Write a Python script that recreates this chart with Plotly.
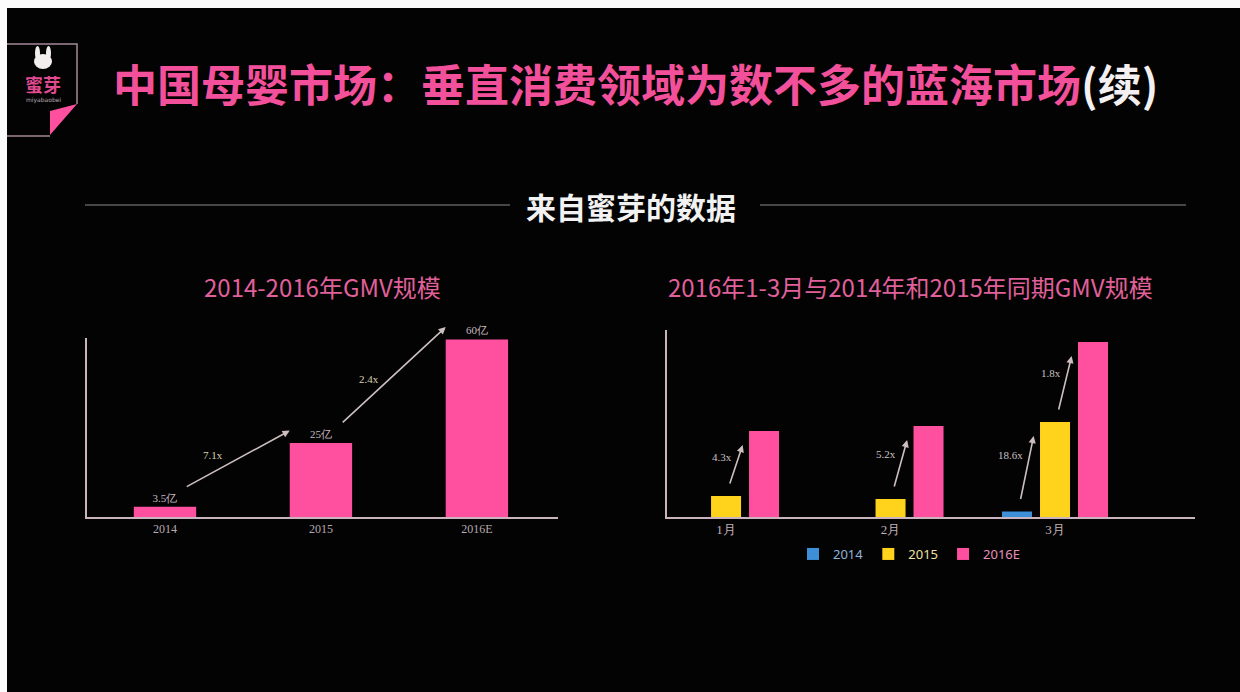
import plotly.graph_objects as go

# ---------------- data ----------------
years = ["2014", "2015", "2016E"]
gmv = [3.5, 25, 60]
gmv_labels = ["3.5亿", "25亿", "60亿"]
gmv_growth = ["7.1x", "2.4x"]

months = ["1月", "2月", "3月"]
series_names = ["2014", "2015", "2016E"]
m2014 = [0, 0, 5.5]
m2015 = [21, 18, 95]
m2016 = [86, 91, 175]
month_growth = [("2015", "2016E", 0, "4.3x"), ("2015", "2016E", 1, "5.2x"),
                ("2014", "2015", 2, "18.6x"), ("2015", "2016E", 2, "1.8x")]

PINK = "#ff4f9f"
YELLOW = "#ffd21c"
BLUE = "#3d8fd8"
TITLE_PINK = "#f2509a"
W, H = 1240, 692
FONT = "Noto Sans CJK SC"

def px(x):
    return x / W

def py(y):
    return 1 - y / H

fig = go.Figure()

# left chart
fig.add_trace(go.Bar(x=years, y=gmv, text=gmv_labels, textposition="outside",
                     textfont=dict(color="#c9b8c0", size=11, family="Liberation Serif"),
                     marker=dict(color=PINK, line=dict(width=0)), width=0.4,
                     cliponaxis=False, showlegend=False, xaxis="x", yaxis="y",
                     hoverinfo="skip"))

# right chart
series_vals = [m2014, m2015, m2016]
series_cols = [BLUE, YELLOW, PINK]
legend_text_cols = ["#8fb4dc", "#efe2a0", "#e890b8"]
for name, vals, col, tcol in zip(series_names, series_vals, series_cols, legend_text_cols):
    fig.add_trace(go.Bar(x=months, y=vals, name=f"<span style='color:{tcol}'>{name}</span>",
                         marker=dict(color=col, line=dict(width=0)),
                         xaxis="x2", yaxis="y2", hoverinfo="skip"))

annotations = []
shapes = []

# growth arrows left
for i, lab in enumerate(gmv_growth):
    sx, sy = i + 0.13, gmv[i] + 6.5
    ex, ey = i + 0.8, gmv[i + 1] + 4.2
    annotations.append(dict(x=ex, y=ey, ax=sx, ay=sy, xref="x", yref="y", axref="x", ayref="y",
                            showarrow=True, arrowhead=2, arrowsize=0.9, arrowwidth=1.6,
                            arrowcolor="#cdbfc0", text=""))
    t = 0.32
    annotations.append(dict(x=sx + t * (ex - sx), y=sy + t * (ey - sy), xref="x", yref="y",
                            text=lab, showarrow=False, xshift=-6, yshift=14,
                            font=dict(color="#d8d0b0", size=11, family="Liberation Serif")))

# growth arrows right
offsets = {"2014": -0.231, "2015": 0.0, "2016E": 0.231}
vals_by = dict(zip(series_names, series_vals))
for f, t_, i, lab in month_growth:
    sx, sy = i + offsets[f] + 0.02, vals_by[f][i] + 11
    ex, ey = i + offsets[t_] - 0.13, vals_by[t_][i] - 14
    annotations.append(dict(x=ex, y=ey, ax=sx, ay=sy, xref="x2", yref="y2", axref="x2", ayref="y2",
                            showarrow=True, arrowhead=2, arrowsize=0.9, arrowwidth=1.6,
                            arrowcolor="#cdbfc0", text=""))
    tt = 0.7
    annotations.append(dict(x=sx + tt * (ex - sx) - 0.03, y=sy + tt * (ey - sy), xref="x2", yref="y2",
                            text=lab, showarrow=False, xanchor="right",
                            font=dict(color="#c8c0c0", size=11, family="Liberation Serif")))

# titles
annotations.append(dict(x=px(111), y=py(83), xref="paper", yref="paper", xanchor="left", yanchor="middle",
                        showarrow=False,
                        text=f"<b><span style='color:{TITLE_PINK}'>中国母婴市场：垂直消费领域为数不多的蓝海市场</span>(续)</b>",
                        font=dict(color="#f4f0f2", size=44, family=FONT)))
annotations.append(dict(x=px(631), y=py(206), xref="paper", yref="paper", xanchor="center", yanchor="middle",
                        showarrow=False, text="<b>来自蜜芽的数据</b>",
                        font=dict(color="#f2f2f2", size=30, family=FONT)))
annotations.append(dict(x=px(322), y=py(286), xref="paper", yref="paper", xanchor="center", yanchor="middle",
                        showarrow=False, text="2014-2016年GMV规模",
                        font=dict(color="#e0609a", size=24, family=FONT)))
annotations.append(dict(x=px(911), y=py(286), xref="paper", yref="paper", xanchor="center", yanchor="middle",
                        showarrow=False, text="2016年1-3月与2014年和2015年同期GMV规模",
                        font=dict(color="#e0609a", size=24, family=FONT)))
# logo text
annotations.append(dict(x=px(43), y=py(84), xref="paper", yref="paper", xanchor="center", yanchor="middle",
                        showarrow=False, text="<b>蜜芽</b>",
                        font=dict(color="#e04a90", size=18, family=FONT)))
annotations.append(dict(x=px(43), y=py(100), xref="paper", yref="paper", xanchor="center", yanchor="middle",
                        showarrow=False, text="miyabaobei",
                        font=dict(color="#b8a8b0", size=6, family="DejaVu Sans")))

# background
shapes.append(dict(type="rect", xref="paper", yref="paper", x0=px(7), x1=1, y0=0, y1=py(8),
                   fillcolor="#030303", line=dict(width=0), layer="below"))
# separator lines
shapes.append(dict(type="line", xref="paper", yref="paper", x0=px(85), x1=px(510), y0=py(205), y1=py(205),
                   line=dict(color="#8a8a8a", width=1.2)))
shapes.append(dict(type="line", xref="paper", yref="paper", x0=px(760), x1=px(1186), y0=py(205), y1=py(205),
                   line=dict(color="#8a8a8a", width=1.2)))
# logo frame
logo_col = "#a58a98"
shapes.append(dict(type="path", xref="paper", yref="paper",
                   path=f"M {px(7)},{py(44)} L {px(77)},{py(44)} L {px(77)},{py(104)}",
                   line=dict(color=logo_col, width=1.5)))
shapes.append(dict(type="line", xref="paper", yref="paper", x0=px(7), x1=px(50), y0=py(136), y1=py(136),
                   line=dict(color=logo_col, width=1.5)))
shapes.append(dict(type="path", xref="paper", yref="paper",
                   path=f"M {px(50)},{py(111)} L {px(77)},{py(104)} L {px(50)},{py(135)} Z",
                   fillcolor="#ff4f9f", line=dict(width=0)))
# bunny
for (x0, x1, y0, y1) in [(35, 40, 46, 60), (46, 51, 46, 60), (34, 52, 54, 69)]:
    shapes.append(dict(type="circle", xref="paper", yref="paper", x0=px(x0), x1=px(x1), y0=py(y0), y1=py(y1),
                       fillcolor="#f2eeee", line=dict(width=0)))

axis_line = "#c9b3bd"
fig.update_layout(
    width=W, height=H, margin=dict(l=0, r=0, t=0, b=0),
    paper_bgcolor="#fbfbfb", plot_bgcolor="rgba(0,0,0,0)",
    font=dict(family=FONT),
    barmode="group", bargap=0.307, bargroupgap=0.21,
    xaxis=dict(domain=[px(87), px(558)], range=[-0.5, 2.52], showline=True, linecolor=axis_line,
               linewidth=1.5, showgrid=False, zeroline=False, ticks="", anchor="y",
               tickfont=dict(color="#b8a8b0", size=12, family="Liberation Serif")),
    yaxis=dict(domain=[py(517), py(338)], range=[0, 60.5], showline=True, linecolor=axis_line,
               linewidth=1.5, showgrid=False, zeroline=False, showticklabels=False, anchor="x"),
    xaxis2=dict(domain=[px(667), px(1195)], range=[-0.359, 2.851], showline=True, linecolor=axis_line,
                linewidth=1.5, showgrid=False, zeroline=False, ticks="", anchor="y2",
                tickfont=dict(color="#c0b0b8", size=13, family="Liberation Serif")),
    yaxis2=dict(domain=[py(517), py(330)], range=[0, 187], showline=True, linecolor=axis_line,
                linewidth=1.5, showgrid=False, zeroline=False, showticklabels=False, anchor="x2"),
    legend=dict(orientation="h", x=px(793), y=py(554), xanchor="left", yanchor="middle",
                bgcolor="rgba(0,0,0,0)", font=dict(size=13, family="Noto Sans"),
                itemwidth=30, tracegroupgap=0),
    annotations=annotations, shapes=shapes,
)

fig.write_html("out.html")
